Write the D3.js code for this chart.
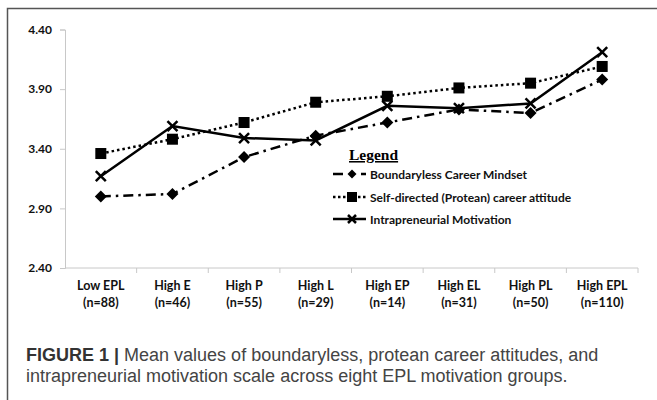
<!DOCTYPE html>
<html>
<head>
<meta charset="utf-8">
<script src="https://cdn.jsdelivr.net/npm/d3@7"></script>
<style>
  body { margin: 0; background: #fff; }
  svg { display: block; }
</style>
</head>
<body>
<svg id="chart" width="657" height="400"></svg>
<script>
// values
var categories = ["Low EPL", "High E", "High P", "High L", "High EP", "High EL", "High PL", "High EPL"];
var groupSizes = ["(n=88)", "(n=46)", "(n=55)", "(n=29)", "(n=14)", "(n=31)", "(n=50)", "(n=110)"];
var boundaryless = [3.00, 3.02, 3.33, 3.51, 3.62, 3.73, 3.70, 3.98];
var protean = [3.36, 3.48, 3.62, 3.79, 3.84, 3.91, 3.95, 4.09];
var intrapreneurial = [3.17, 3.59, 3.49, 3.47, 3.76, 3.74, 3.78, 4.21];
var yTicks = [2.40, 2.90, 3.40, 3.90, 4.40];
var seriesNames = ["Boundaryless Career Mindset", "Self-directed (Protean) career attitude", "Intrapreneurial Motivation"];

var svg = d3.select("#chart");
var labelFont = "Lato, 'Open Sans', sans-serif";

// outer frame (top + left visible)
svg.append("path")
    .attr("d", "M7.5,400 V8.5 H657")
    .attr("fill", "none")
    .attr("stroke", "#555")
    .attr("stroke-width", 1.5);

var xScale = d3.scaleBand().domain(categories).range([65, 638]);
var yScale = d3.scaleLinear().domain([2.4, 4.4]).range([268, 29.5]);

// y axis
var yAxis = svg.append("g")
    .attr("transform", "translate(65,0)")
    .call(d3.axisLeft(yScale).tickValues(yTicks).tickSize(5).tickPadding(8)
        .tickFormat(d3.format(".2f")));
yAxis.select(".domain").attr("stroke", "#c8c8c8");
yAxis.selectAll(".tick line").attr("stroke", "#c8c8c8");
yAxis.selectAll("text")
    .attr("font-family", labelFont)
    .attr("font-weight", "bold")
    .attr("font-size", "12px")
    .attr("fill", "#111");

// x axis, ticks on category boundaries
var xAxis = svg.append("g")
    .attr("transform", "translate(0,268)");
xAxis.append("line")
    .attr("x1", 65).attr("x2", 638)
    .attr("stroke", "#c8c8c8");
xAxis.selectAll(".xtick")
    .data(categories)
    .enter().append("line")
    .attr("class", "xtick")
    .attr("x1", function (d) { return xScale(d) + xScale.bandwidth(); })
    .attr("x2", function (d) { return xScale(d) + xScale.bandwidth(); })
    .attr("y1", 0).attr("y2", 5)
    .attr("stroke", "#c8c8c8");

var xLabels = xAxis.selectAll(".xlabel")
    .data(categories)
    .enter().append("text")
    .attr("class", "xlabel")
    .attr("text-anchor", "middle")
    .attr("font-family", labelFont)
    .attr("font-weight", "bold")
    .attr("font-size", "12.5px")
    .attr("fill", "#111");
xLabels.append("tspan")
    .attr("x", function (d) { return xScale(d) + xScale.bandwidth() / 2; })
    .attr("y", 21.5)
    .text(function (d) { return d; });
xLabels.append("tspan")
    .attr("x", function (d) { return xScale(d) + xScale.bandwidth() / 2; })
    .attr("y", 38.5)
    .text(function (d, i) { return groupSizes[i]; });

function cx(i) { return xScale(categories[i]) + xScale.bandwidth() / 2; }

var series = [
    { name: seriesNames[0], values: boundaryless, dash: "10,5,2.5,5", marker: "diamond" },
    { name: seriesNames[1], values: protean, dash: "2.5,3", marker: "square" },
    { name: seriesNames[2], values: intrapreneurial, dash: null, marker: "cross" }
];

var line = d3.line()
    .x(function (d, i) { return cx(i); })
    .y(function (d) { return yScale(d); });

function drawMarker(g, type, x, y, r) {
    if (type === "diamond") {
        g.append("path")
            .attr("d", "M" + x + "," + (y - r) + " L" + (x + r) + "," + y + " L" + x + "," + (y + r) + " L" + (x - r) + "," + y + "Z")
            .attr("fill", "#000");
    } else if (type === "square") {
        g.append("rect")
            .attr("x", x - r).attr("y", y - r)
            .attr("width", 2 * r).attr("height", 2 * r)
            .attr("fill", "#000");
    } else {
        g.append("path")
            .attr("d", "M" + (x - r) + "," + (y - r) + " L" + (x + r) + "," + (y + r) + " M" + (x + r) + "," + (y - r) + " L" + (x - r) + "," + (y + r))
            .attr("stroke", "#000")
            .attr("stroke-width", 2.5)
            .attr("fill", "none");
    }
}

var markerSize = { diamond: 6, square: 5.5, cross: 5 };
var legendMarkerSize = { diamond: 4.5, square: 5, cross: 4 };

series.forEach(function (s) {
    var g = svg.append("g");
    g.append("path")
        .datum(s.values)
        .attr("d", line)
        .attr("fill", "none")
        .attr("stroke", "#000")
        .attr("stroke-width", 2.5)
        .attr("stroke-dasharray", s.dash);
    s.values.forEach(function (v, i) {
        drawMarker(g, s.marker, cx(i), yScale(v), markerSize[s.marker]);
    });
});

// legend
var legend = svg.append("g");
legend.append("text")
    .attr("x", 349).attr("y", 160)
    .attr("font-family", "'Liberation Serif', 'Times New Roman', serif")
    .attr("font-weight", "bold")
    .attr("font-size", "15.5px")
    .attr("text-decoration", "underline")
    .attr("fill", "#000")
    .text("Legend");

var legendY = [174, 197, 219];
var legendDash = ["10,18,5,20", "2.5,2.5", null];
series.forEach(function (s, i) {
    var y = legendY[i];
    var g = legend.append("g");
    g.append("line")
        .attr("x1", 333).attr("x2", 366)
        .attr("y1", y).attr("y2", y)
        .attr("stroke", "#000")
        .attr("stroke-width", 2.5)
        .attr("stroke-dasharray", legendDash[i]);
    drawMarker(g, s.marker, 352, y, legendMarkerSize[s.marker]);
    g.append("text")
        .attr("x", 370).attr("y", y + 4.5)
        .attr("font-family", labelFont)
        .attr("font-weight", "bold")
        .attr("font-size", "12px")
        .attr("fill", "#111")
        .text(s.name);
});

// caption
var caption = svg.append("g")
    .attr("font-family", "'Liberation Sans', Arial, sans-serif")
    .attr("font-size", "18px")
    .attr("fill", "#444");
var cap1 = caption.append("text").attr("x", 26).attr("y", 361);
cap1.append("tspan").attr("font-weight", "bold").attr("fill", "#333").text("FIGURE 1 | ");
cap1.append("tspan").text("Mean values of boundaryless, protean career attitudes, and");
caption.append("text").attr("x", 26).attr("y", 382)
    .text("intrapreneurial motivation scale across eight EPL motivation groups.");
</script>
</body>
</html>
